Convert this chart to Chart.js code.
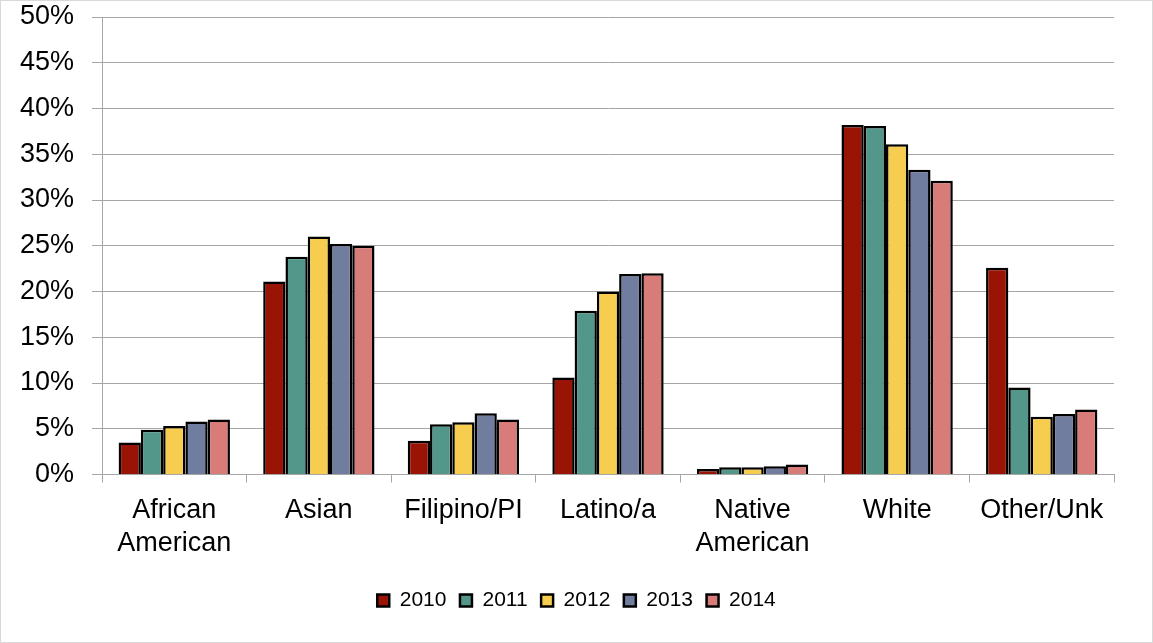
<!DOCTYPE html>
<html>
<head>
<meta charset="utf-8">
<script src="https://cdn.jsdelivr.net/npm/chart.js@4/dist/chart.umd.min.js"></script>
<style>
  html, body { margin: 0; padding: 0; background: #fff; }
  #wrap { position: relative; width: 1151px; height: 641px; border: 1px solid #d9d9d9; }
</style>
</head>
<body>
<div id="wrap"><canvas id="c"></canvas></div>
<script>
const categories = [["African","American"], "Asian", "Filipino/PI", "Latino/a", ["Native","American"], "White", "Other/Unk"];
const years = ["2010", "2011", "2012", "2013", "2014"];
const v2010 = [3.5, 21.1, 3.7, 10.6, 0.6, 38.2, 22.6];
const v2011 = [4.9, 23.8, 5.5, 17.9, 0.8, 38.1, 9.5];
const v2012 = [5.3, 26.0, 5.7, 20.0, 0.8, 36.1, 6.3];
const v2013 = [5.8, 25.2, 6.7, 21.9, 0.9, 33.3, 6.6];
const v2014 = [6.0, 25.0, 6.0, 22.0, 1.1, 32.1, 7.1];
const yTicks = [0, 5, 10, 15, 20, 25, 30, 35, 40, 45, 50];

const colors = ["#991405", "#53978A", "#F6CD4E", "#717D9E", "#D87C7A"];
const series = [v2010, v2011, v2012, v2013, v2014];

Chart.defaults.font.family = "'Liberation Sans', Arial, sans-serif";
Chart.defaults.color = "#000";

const legendShift = {
  id: 'legendShift',
  beforeDraw(chart) {
    const lg = chart.legend;
    if (lg && !lg._shifted) { lg.left += 19; lg.right += 19; lg._shifted = true; }
  }
};

new Chart(document.getElementById('c'), {
  type: 'bar',
  data: {
    labels: categories,
    datasets: series.map((d, i) => ({
      label: years[i],
      data: d,
      backgroundColor: colors[i],
      borderColor: "#000",
      borderWidth: 2.5,
      borderSkipped: 'bottom'
    }))
  },
  plugins: [legendShift],
  options: {
    responsive: true,
    maintainAspectRatio: false,
    animation: false,
    layout: { padding: { top: 0, right: 38, left: 0, bottom: 21 } },
    plugins: {
      tooltip: { enabled: false },
      legend: {
        position: 'bottom',
        labels: {
          boxWidth: 12, boxHeight: 12,
          padding: 13.5,
          font: { size: 21 },
          color: "#000"
        }
      }
    },
    datasets: { bar: { categoryPercentage: 0.77, barPercentage: 1.0 } },
    scales: {
      x: {
        grid: { drawOnChartArea: false, color: "#a6a6a6", tickLength: 8, offset: true },
        border: { color: "#a6a6a6", width: 1 },
        ticks: { font: { size: 27 }, color: "#000", padding: 12, maxRotation: 0, autoSkip: false },
        afterFit: s => { s.height = 102; }
      },
      y: {
        min: 0, max: 50,
        afterBuildTicks: s => { s.ticks = yTicks.map(v => ({ value: v })); },
        grid: { color: "#a6a6a6", tickLength: 10 },
        border: { color: "#a6a6a6", width: 1 },
        ticks: { font: { size: 27 }, color: "#000", padding: 18, callback: v => v + "%" },
        afterFit: s => { s.width = 101; s.paddingTop = 16; s.paddingBottom = 16; }
      }
    }
  }
});
</script>
</body>
</html>
